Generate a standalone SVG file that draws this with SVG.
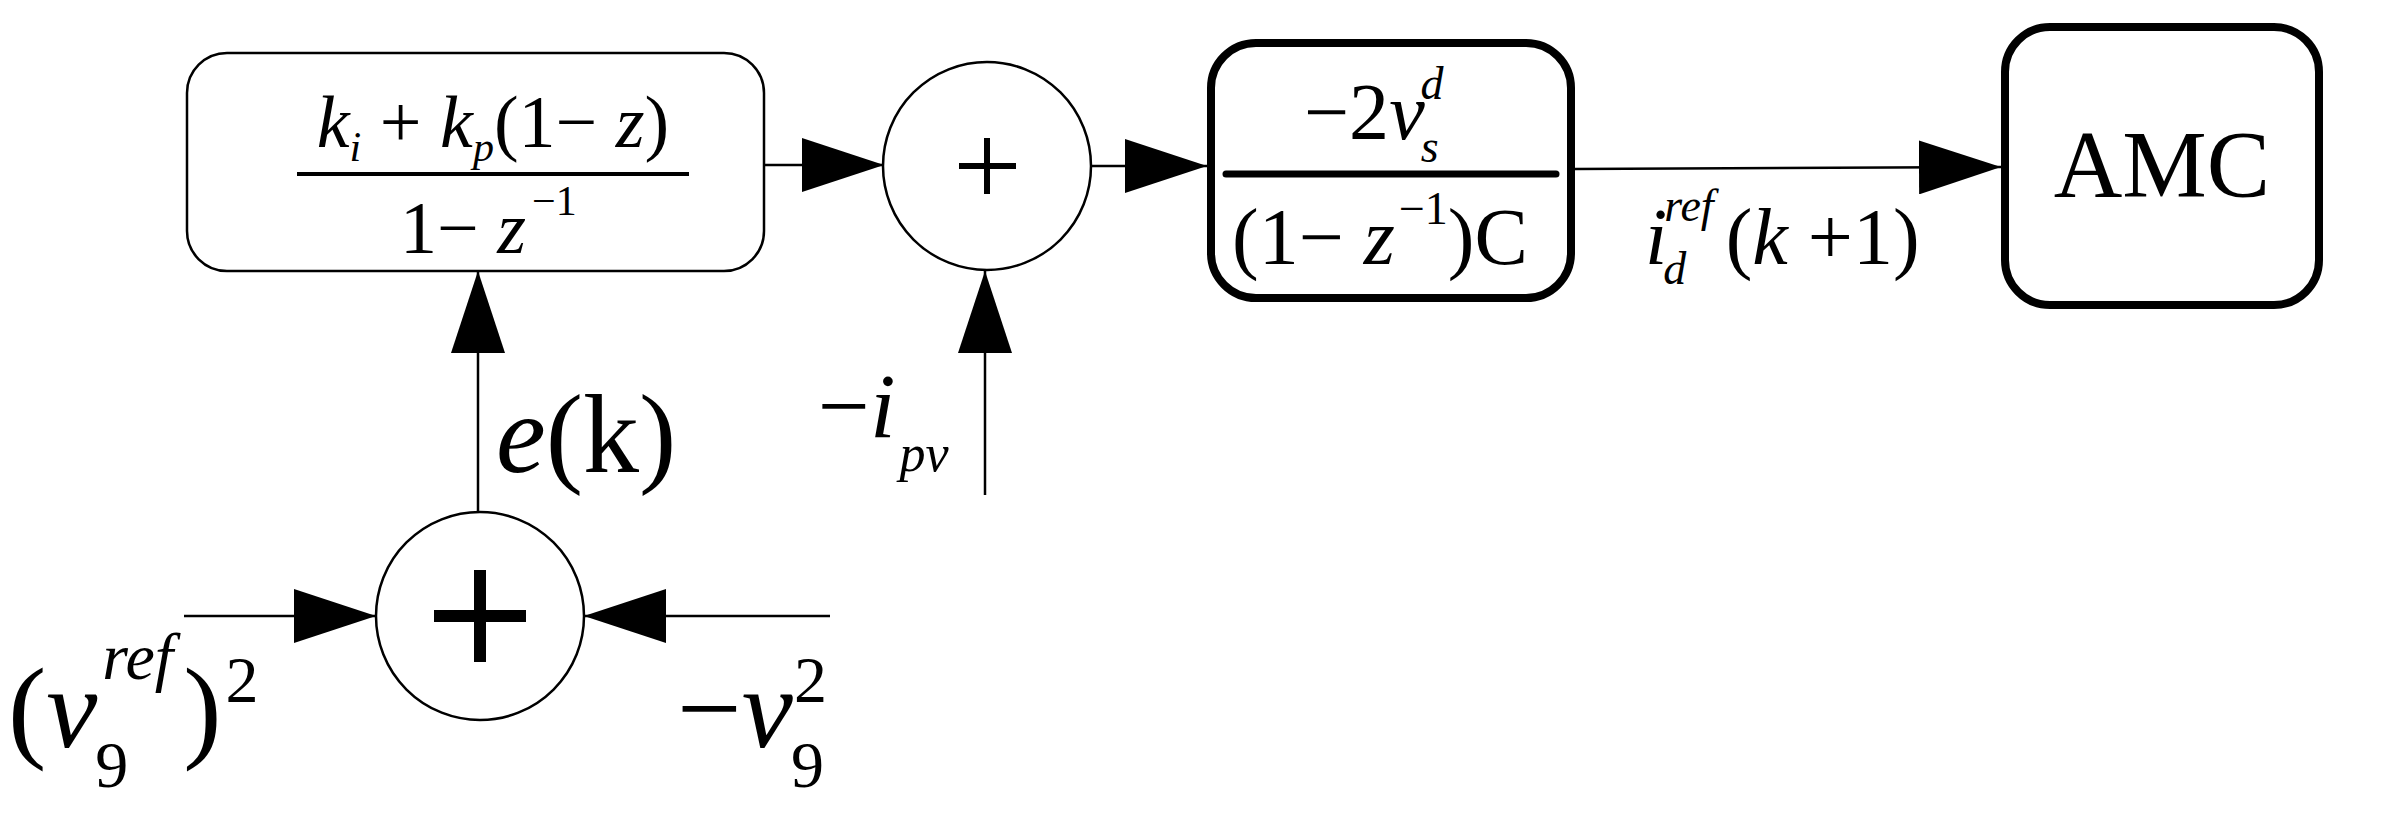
<svg xmlns="http://www.w3.org/2000/svg" width="2383" height="836" viewBox="0 0 2383 836">
<style>
text{font-family:"Liberation Serif","Times New Roman",serif;fill:#000}
.i{font-style:italic}
.ln{stroke:#000;stroke-width:2.5;fill:none}
.nd{fill:#fff;stroke:#000;stroke-width:2.5}
.bn{fill:#fff;stroke:#000;stroke-width:8}
</style>
<defs>
<marker id="ah" markerWidth="82" markerHeight="54" refX="82" refY="27" orient="auto" markerUnits="userSpaceOnUse">
<path d="M0,0 L82,27 L0,54 Z" fill="#000"/>
</marker>
</defs>
<rect width="2383" height="836" fill="#fff"/>
<g id="connectors">
<line class="ln" x1="764" y1="165" x2="884" y2="165" marker-end="url(#ah)"/>
<line class="ln" x1="1091" y1="166" x2="1207" y2="166" marker-end="url(#ah)"/>
<line class="ln" x1="985" y1="495" x2="985" y2="271" marker-end="url(#ah)"/>
<line class="ln" x1="478" y1="512" x2="478" y2="271" marker-end="url(#ah)"/>
<line class="ln" x1="184" y1="616" x2="376" y2="616" marker-end="url(#ah)"/>
<line class="ln" x1="830" y1="616" x2="584" y2="616" marker-end="url(#ah)"/>
<line class="ln" x1="1575" y1="169" x2="2001" y2="167" marker-end="url(#ah)"/>
</g>
<g id="pi">
<rect class="nd" x="187" y="53" width="577" height="218" rx="40"/>
<line x1="297" y1="174" x2="689" y2="174" stroke="#000" stroke-width="4"/>
<text x="493" y="147" font-size="74" text-anchor="middle"><tspan class="i">k</tspan><tspan font-size="42" dy="14" class="i">i</tspan><tspan dy="-14"> + </tspan><tspan class="i">k</tspan><tspan font-size="42" dy="14" class="i">p</tspan><tspan dy="-14">(1− </tspan><tspan class="i">z</tspan><tspan>)</tspan></text>
<text x="400" y="253" font-size="74">1− <tspan class="i">z</tspan><tspan font-size="42" dy="-38" dx="6">−1</tspan></text>
</g>
<g id="sum1">
<circle class="nd" cx="987" cy="166" r="104"/>
<path d="M959,166 H1016 M987,138 V194" stroke="#000" stroke-width="6"/>
</g>
<g id="sum2">
<circle class="nd" cx="480" cy="616" r="104"/>
<path d="M434,616 H526 M480,570 V662" stroke="#000" stroke-width="12"/>
</g>
<g id="plant">
<rect class="bn" x="1211" y="43" width="360" height="255" rx="45"/>
<line x1="1226" y1="174" x2="1556" y2="174" stroke="#000" stroke-width="7" stroke-linecap="round"/>
<text x="1304" y="139" font-size="80">−2<tspan class="i">v</tspan><tspan class="i" font-size="46" dy="23" dx="-4">s</tspan><tspan class="i" font-size="46" dy="-63" dx="-18">d</tspan></text>
<text x="1232" y="264" font-size="80">(1− <tspan class="i">z</tspan><tspan font-size="46" dy="-40" dx="4">−1</tspan><tspan dy="40">)C</tspan></text>
</g>
<g id="amc">
<rect class="bn" x="2005" y="27" width="314" height="278" rx="45"/>
<text x="2162" y="197" font-size="95" text-anchor="middle">AMC</text>
</g>
<g id="labels">
<text x="818" y="437" font-size="92">−<tspan class="i">i</tspan><tspan class="i" font-size="52" dy="34" dx="4">pv</tspan></text>
<text x="496" y="472" font-size="112"><tspan class="i">e</tspan>(k)</text>
<text x="8" y="747" font-size="115">(<tspan class="i">v</tspan><tspan font-size="66" dy="40" dx="-2">9</tspan><tspan class="i" font-size="66" dy="-108" dx="-26">ref</tspan><tspan dy="68" dx="10">)</tspan><tspan font-size="66" dy="-45" dx="4">2</tspan></text>
<text x="677" y="747" font-size="115">−<tspan class="i">v</tspan><tspan font-size="66" dy="40" dx="-2">9</tspan><tspan font-size="66" dy="-85" dx="-30">2</tspan></text>
<text x="1645" y="264" font-size="80"><tspan class="i">i</tspan><tspan class="i" font-size="46" dy="20" dx="-4">d</tspan><tspan class="i" font-size="46" dy="-63" dx="-22">ref</tspan><tspan dy="43" dx="12">(</tspan><tspan class="i">k</tspan> +1)</text>
</g>
</svg>
